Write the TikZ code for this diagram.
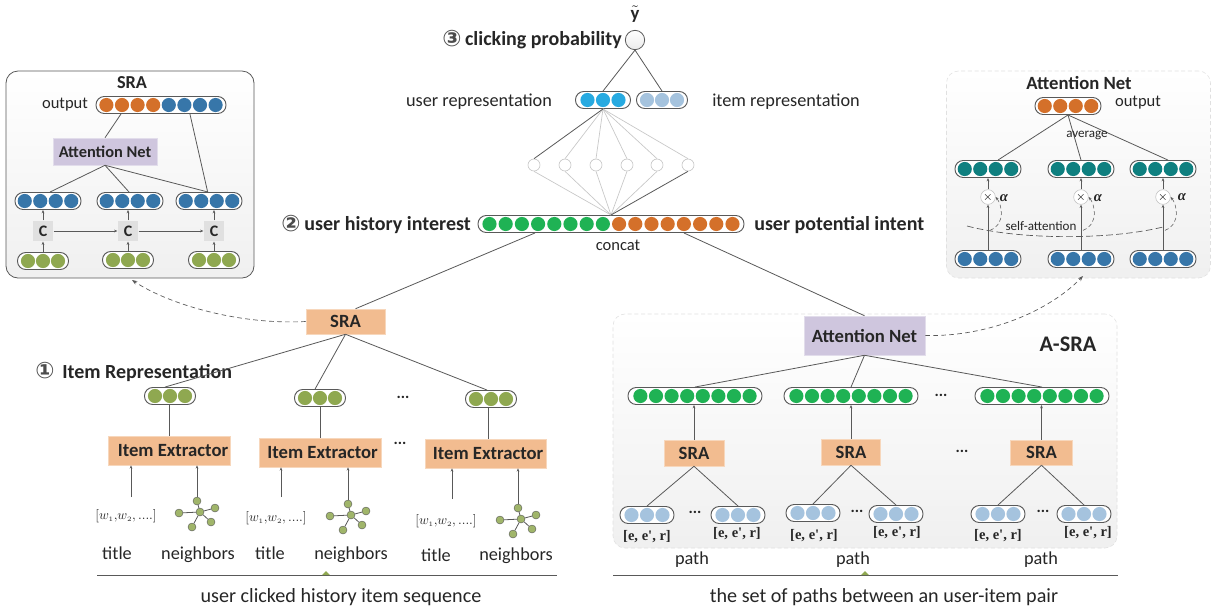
\documentclass[tikz,border=0pt]{standalone}
\usepackage{fontspec}
\setmainfont{Carlito}
\newfontfamily\serifb{Liberation Serif}
\newfontfamily\symb{DejaVu Sans}
\usetikzlibrary{arrows.meta,calc}
\definecolor{cor}{HTML}{D4702A}
\definecolor{cbl}{HTML}{3776A9}
\definecolor{cgn}{HTML}{1FB254}
\definecolor{col}{HTML}{8FA850}
\definecolor{cte}{HTML}{0F8080}
\definecolor{csk}{HTML}{27AAE1}
\definecolor{clb}{HTML}{A5C3DE}
\definecolor{boxo}{HTML}{F2BC90}
\definecolor{boxp}{HTML}{CFC6DE}
\definecolor{ink}{HTML}{262626}
\definecolor{linec}{HTML}{595959}
\tikzset{
  pillst/.style={draw=linec,line width=0.7pt,fill=white,rounded corners=6.2pt,minimum height=12.75pt,inner sep=0pt},
  orangebox/.style={fill=boxo,draw=boxo!60!white,line width=0.4pt,font=\fontsize{14}{16}\selectfont\bfseries,text=ink,inner sep=0pt},
  purplebox/.style={fill=boxp,draw=boxp!60!white,line width=0.4pt,font=\fontsize{14}{16}\selectfont\bfseries,text=ink,inner sep=0pt},
  cbox/.style={fill=black!12,text=ink,font=\fontsize{12}{14}\selectfont\bfseries,minimum size=15.5pt,inner sep=0pt},
  link/.style={draw=linec,line width=0.6pt},
  thin link/.style={draw=black!22,line width=0.5pt},
  up/.style={draw=linec,line width=0.5pt,-{Stealth[length=2.5pt,width=2pt]}},
  dashlink/.style={draw=linec,line width=0.5pt,dash pattern=on 3.5pt off 2.5pt,-{Stealth[length=4pt,width=3pt]}},
  txt/.style={text=ink,font=\fontsize{13.7}{15}\selectfont,inner sep=0pt,yshift=-1pt},
  captext/.style={text=ink,font=\fontsize{15.1}{17}\selectfont,inner sep=0pt,yshift=-1.2pt},
  outl/.style={text=ink,font=\fontsize{12.4}{14}\selectfont,inner sep=0pt},
  small/.style={text=ink,font=\fontsize{9.8}{11}\selectfont,inner sep=0pt},
  head/.style={text=ink,font=\fontsize{15}{17}\selectfont\bfseries,inner sep=0pt,yshift=-1pt},
  nummark/.style={text=black!70,font=\symb\bfseries\fontsize{17}{17}\selectfont,inner sep=0pt},
  ee/.style={text=ink,font=\serifb\bfseries\fontsize{10.9}{12}\selectfont,inner sep=0pt},
  ww/.style={text=ink,font=\fontsize{10}{12}\selectfont,inner sep=0pt},
  dots/.style={text=ink,font=\fontsize{12}{12}\selectfont\bfseries,inner sep=0pt},
  hid/.style={circle,draw=black!22,line width=0.5pt,fill=white,minimum size=9pt,inner sep=0pt},
  times/.style={circle,draw=black!25,line width=0.4pt,fill=white,minimum size=11pt,inner sep=0pt,font=\fontsize{9}{9}\selectfont},
  alph/.style={text=ink,font=\serifb\bfseries\itshape\fontsize{11}{11}\selectfont,inner sep=0pt},
  panel/.style={rounded corners=9pt,top color=white,bottom color=black!6,inner sep=0pt},
  neigh/.style={circle,fill=col!85!white,draw=linec,line width=0.3pt,minimum size=6pt,inner sep=0pt},
}
% name, cx, cy, width, step, n, colours
\newcommand{\pill}[7]{%
  \node[pillst,minimum width={#4*0.75pt}] (#1) at (#2,#3) {};
  \foreach \cc [count=\ii] in {#7}
    \fill[\cc] ({#2+(\ii-(#6+1)/2)*#5},#3) circle (5.3pt);
}
% prefix, cx, cy
\newcommand{\graphn}[3]{%
  \node[neigh] (#1c) at (#2,#3) {};
  \node[neigh] (#1a) at (#2-21,#3+1) {};
  \node[neigh] (#1b) at (#2-3,#3-11) {};
  \node[neigh] (#1d) at (#2+15,#3-4) {};
  \node[neigh] (#1e) at (#2+11,#3+10) {};
  \node[neigh] (#1f) at (#2-8,#3+15) {};
  \foreach \nn in {a,b,d,e,f} \draw[link] (#1c) -- (#1\nn);
}
\begin{document}
\begin{tikzpicture}[x=0.75pt,y=-0.75pt]
\useasboundingbox (0,0) rectangle (1211,612);
\fill[white] (0,0) rectangle (1211,612);

% ---------- panels
\node[panel,draw=linec,line width=0.6pt,minimum width={248*0.75pt},minimum height={207*0.75pt}] (sraframe) at (130,174.5) {};
\node[panel,draw=black!12,line width=0.4pt,densely dashed,minimum width={264*0.75pt},minimum height={207*0.75pt}] (attframe) at (1078.5,174.5) {};
\node[panel,draw=black!12,line width=0.4pt,densely dashed,minimum width={504*0.75pt},minimum height={234*0.75pt}] (asraframe) at (865,431) {};

% ---------- SRA inset
\node[head,font=\fontsize{13.7}{15}\selectfont\bfseries] (sratitle) at (132,81) {SRA};
\node[outl] (sraout) at (65,105) {output};
\pill{sop}{161}{105}{130}{15.6}{8}{cor,cor,cor,cor,cbl,cbl,cbl,cbl}
\node[purplebox,font=\fontsize{12.3}{14}\selectfont\bfseries,minimum width={104*0.75pt},minimum height={27*0.75pt}] (sat) at (105,151.5) {Attention Net};
\pill{sb1}{48}{201}{66}{15.5}{4}{cbl,cbl,cbl,cbl}
\pill{sb2}{130}{201}{66}{15.5}{4}{cbl,cbl,cbl,cbl}
\pill{sb3}{209}{201}{66}{15.5}{4}{cbl,cbl,cbl,cbl}
\node[cbox] (c1) at (43,231) {C};
\node[cbox] (c2) at (128,231) {C};
\node[cbox] (c3) at (214,231) {C};
\pill{sg1}{43}{261}{51}{15}{3}{col,col,col}
\pill{sg2}{128}{260}{51}{15}{3}{col,col,col}
\pill{sg3}{214}{260}{51}{15}{3}{col,col,col}
\draw[link] ([xshift=-30pt]sop.south) -- (sat.north);
\draw[link] ([xshift=21.7pt]sop.south) -- ([xshift=-1pt]sb3.north);
\draw[link] (sat.south) -- ([xshift=1.5pt]sb1.north);
\draw[link] (sat.south) -- ([xshift=-0.7pt]sb2.north);
\draw[link] (sat.south) -- ([xshift=-0.7pt]sb3.north);
\draw[up] (c1.north) -- (c1.north |- sb1.south);
\draw[up] (c2.north) -- (c2.north |- sb2.south);
\draw[up] (c3.north) -- (c3.north |- sb3.south);
\draw[up] (sg1.north) -- (c1.south);
\draw[up] (sg2.north) -- (c2.south);
\draw[up] (sg3.north) -- (c3.south);
\draw[up] (c1.east) -- (c2.west);
\draw[up] (c2.east) -- (c3.west);

% ---------- Attention Net inset
\node[head,font=\fontsize{14}{16}\selectfont\bfseries] (atttitle) at (1079,82) {Attention Net};
\node[outl] (attout) at (1138,103) {output};
\pill{aop}{1068}{106}{66}{15.5}{4}{cor,cor,cor,cor}
\pill{at1}{988}{169}{66}{15.5}{4}{cte,cte,cte,cte}
\pill{at2}{1081}{169}{66}{15.5}{4}{cte,cte,cte,cte}
\pill{at3}{1163}{169}{66}{15.5}{4}{cte,cte,cte,cte}
\pill{ab1}{988}{259}{66}{15.5}{4}{cbl,cbl,cbl,cbl}
\pill{ab2}{1081}{259}{66}{15.5}{4}{cbl,cbl,cbl,cbl}
\pill{ab3}{1163}{259}{66}{15.5}{4}{cbl,cbl,cbl,cbl}
\node[times] (x1) at (988,197) {$\times$};
\node[times] (x2) at (1081,197) {$\times$};
\node[times] (x3) at (1163,197) {$\times$};
\node[alph] (al1) at (1004,198) {α};
\node[alph] (al2) at (1098,198) {α};
\node[alph] (al3) at (1182,197) {α};
\draw[link] (aop.south) -- ([xshift=7.5pt]at1.north);
\draw[link] (aop.south) -- (at2.north);
\draw[link] (aop.south) -- ([xshift=3.7pt]at3.north);
\node[small] (avg) at (1087,135) {average};
\draw[up] (x1.north) -- (at1.south);
\draw[up] (x2.north) -- (at2.south);
\draw[up] (x3.north) -- (at3.south);
\draw[up] (ab1.north) -- (x1.south);
\draw[up] (ab2.north) -- (x2.south);
\draw[up] (ab3.north) -- (x3.south);
\coordinate (sa0) at (967,226);
\coordinate (sa1) at (1163,227);
\draw[draw=linec,line width=0.5pt,dash pattern=on 5pt off 2.5pt] (sa0) .. controls (1020,240) and (1110,240) .. (sa1);
\node[small] (sattn) at (1041,226) {self-attention};
\foreach \bx in {x1,x2,x3}{
  \draw[draw=linec,line width=0.4pt,densely dashed,-{Stealth[length=2.5pt,width=2pt]}]
    ([shift={(1.5pt,-25pt)}]\bx.center) .. controls ([shift={(14pt,-20pt)}]\bx.center) and ([shift={(10pt,-5pt)}]\bx.center) .. (\bx.east);
}

% ---------- centre top
\node[circle,draw=linec,line width=0.6pt,top color=white,bottom color=black!8,minimum size=14.5pt,inner sep=0pt] (yh) at (635,40) {};
\node[text=ink,inner sep=0pt,font=\fontsize{14}{14}\selectfont] (ylab) at (635,14) {$\tilde{\mathbf{y}}$};
\node[head,anchor=east] (clk) at (622,39) {clicking probability};
\node[nummark] (n3) at (452,39) {③};
\pill{ur}{603}{100}{55}{15.5}{3}{csk,csk,csk}
\pill{ir}{662}{100}{51}{15}{3}{clb,clb,clb}
\node[txt] (urt) at (479,100) {user representation};
\node[txt] (irt) at (786,100) {item representation};
\draw[link] (yh.south) -- (ur.north);
\draw[link] (yh.south) -- (ir.north);
\foreach \hn/\hx in {h1/534,h2/565,h3/596,h4/627,h5/657,h6/688}
  \node[hid] (\hn) at (\hx,165) {};
\pill{cc}{611}{224}{266}{16.2}{16}{cgn,cgn,cgn,cgn,cgn,cgn,cgn,cgn,cor,cor,cor,cor,cor,cor,cor,cor}
\coordinate (cctop) at (611,215);
\foreach \hn in {h2,h3,h4,h5,h6} \draw[thin link] (ur.south) -- (\hn.north);
\foreach \hn in {h1,h2,h3,h4,h5} \draw[thin link] (cctop) -- (\hn.south);
\draw[link] (ur.south) -- (h1.north);
\draw[link] (cctop) -- (h6.south);
\node[outl] (cct) at (618,245) {concat};
\node[nummark] (n2) at (291,224) {②};
\node[head,anchor=east] (uhi) at (471,224) {user history interest};
\node[head,anchor=west] (upi) at (754,224) {user potential intent};

% ---------- left tree
\node[orangebox,minimum width={79*0.75pt},minimum height={25*0.75pt}] (sram) at (345.5,321.5) {SRA};
\node[purplebox,minimum width={121*0.75pt},minimum height={39*0.75pt}] (atm) at (864.5,335.5) {Attention Net};
\draw[link] ([xshift=-57pt]cc.south) -- ([xshift=7.5pt]sram.north);
\draw[link] ([xshift=54.7pt]cc.south) -- (atm.north);
\coordinate (sraarrow) at (132,280);
\coordinate (attarrow) at (1083,276);
\draw[dashlink] (sram.west) .. controls (240,325) and (170,305) .. (sraarrow);
\draw[dashlink] (atm.east) .. controls (990,337) and (1050,310) .. (attarrow);

\node[nummark] (n1) at (45,371) {①};
\node[head,anchor=west] (irp) at (62,372) {Item Representation};

\pill{g1}{170}{396}{51}{15}{3}{col,col,col}
\pill{g2}{320}{398}{51}{15}{3}{col,col,col}
\pill{g3}{491}{399}{51}{15}{3}{col,col,col}
\draw[link] (sram.south) -- ([xshift=-3.7pt]g1.north);
\draw[link] (sram.south) -- ([xshift=-3.7pt]g2.north);
\draw[link] (sram.south) -- ([xshift=-3pt]g3.north);
\node[dots] (d1) at (403,397) {...};
\node[dots] (d2) at (400,443) {...};
\node[orangebox,minimum width={122*0.75pt},minimum height={29*0.75pt}] (ie1) at (169,450.5) {\hspace{6pt}Item Extractor};
\node[orangebox,minimum width={122*0.75pt},minimum height={29*0.75pt}] (ie2) at (320,452.5) {\hspace{4pt}Item Extractor};
\node[orangebox,minimum width={121*0.75pt},minimum height={29*0.75pt}] (ie3) at (485.5,453.5) {\hspace{4pt}Item Extractor};
\draw[link] (ie1.north) -- (ie1.north |- g1.south);
\draw[link] (ie2.north) -- (ie2.north |- g2.south);
\draw[link] ([xshift=-2pt]g3.south) -- ([xshift=-2pt]g3.south |- ie3.north);
\foreach \ix/\ax/\nx/\wx/\wy/\gy/\tx/\tty/\nnx/\ey/\ly in {ie1/131/198/126/516/512/117/552/198/497/553, ie2/281/349/276/518/515/270/552/351/497/553, ie3/452/519/446/521/519/436/554/516/499/554}{
  \node[ww] (w\ix) at (\wx,\wy) {$[w_{\scriptscriptstyle 1},\!w_{\scriptscriptstyle 2},....]$};
  \graphn{n\ix}{\nx+2}{\gy}
  \node[txt] (t\ix) at (\tx,\tty) {title};
  \node[txt] (nt\ix) at (\nnx,\ly) {neighbors};
  \coordinate (ta\ix) at (\ax,\ey);
  \draw[up] (ta\ix) -- (\ix.south -| ta\ix);
  \draw[up] (n\ix b.north) -- (\ix.south -| n\ix b);
}
\draw[link] (97,575) coordinate (bl1) -- (557,575) coordinate (bl2);
\coordinate (tri1) at (326,575);
\fill[col] ($(tri1)+(-4,0)$) -- ($(tri1)+(0,-4)$) -- ($(tri1)+(4,0)$) -- cycle;
\node[captext] (seq1) at (341,596) {user clicked history item sequence};

% ---------- right tree
\node[head,font=\fontsize{16.7}{18}\selectfont\bfseries] (asl) at (1068,343) {A-SRA};
\pill{p1}{695}{396}{134}{15.6}{8}{cgn,cgn,cgn,cgn,cgn,cgn,cgn,cgn}
\pill{p2}{851}{396}{134}{15.6}{8}{cgn,cgn,cgn,cgn,cgn,cgn,cgn,cgn}
\pill{p3}{1042}{396}{134}{15.6}{8}{cgn,cgn,cgn,cgn,cgn,cgn,cgn,cgn}
\draw[link] (atm.south) -- (p1.north);
\draw[link] (atm.south) -- (p2.north);
\draw[link] (atm.south) -- (p3.north);
\node[dots] (d3) at (941,395) {...};
\node[dots] (d4) at (962,451) {...};
\node[orangebox,minimum width={60*0.75pt},minimum height={26*0.75pt}] (s1) at (694,453) {SRA};
\node[orangebox,minimum width={59*0.75pt},minimum height={26*0.75pt}] (s2) at (851,452) {SRA};
\node[orangebox,minimum width={62*0.75pt},minimum height={25*0.75pt}] (s3) at (1041.5,452.5) {SRA};
\draw[up] (s1.north) -- (s1.north |- p1.south);
\draw[up] (s2.north) -- (s2.north |- p2.south);
\draw[up] (s3.north) -- (s3.north |- p3.south);
\pill{q1}{647}{515}{54}{15.5}{3}{clb,clb,clb}
\pill{q2}{738}{515}{54}{15.5}{3}{clb,clb,clb}
\pill{q3}{813}{513}{54}{15.5}{3}{clb,clb,clb}
\pill{q4}{896}{514}{54}{15.5}{3}{clb,clb,clb}
\pill{q5}{998}{514}{54}{15.5}{3}{clb,clb,clb}
\pill{q6}{1084}{514}{54}{15.5}{3}{clb,clb,clb}
\draw[link] (s1.south) -- (q1.north);
\draw[link] (s1.south) -- (q2.north);
\draw[link] (s2.south) -- (q3.north);
\draw[link] (s2.south) -- (q4.north);
\draw[link] (s3.south) -- (q5.north);
\draw[link] (s3.south) -- (q6.north);
\node[dots] (d5) at (695,512) {...};
\node[dots] (d6) at (857,511) {...};
\node[dots] (d7) at (1043,511) {...};
\foreach \en/\ex/\ey in {e1/647/537,e2/737/534,e3/814/536,e4/897/533,e5/998/536,e6/1088/533}
  \node[ee] (\en) at (\ex,\ey) {[e, e', r]};
\node[txt] (pa1) at (692,558) {path};
\node[txt] (pa2) at (853,558) {path};
\node[txt] (pa3) at (1041,558) {path};
\draw[link] (613,575) coordinate (br1) -- (1118,575) coordinate (br2);
\coordinate (tri2) at (865,575);
\fill[col] ($(tri2)+(-4,0)$) -- ($(tri2)+(0,-4)$) -- ($(tri2)+(4,0)$) -- cycle;
\node[captext] (seq2) at (884,596) {the set of paths between an user-item pair};
\end{tikzpicture}
\end{document}
